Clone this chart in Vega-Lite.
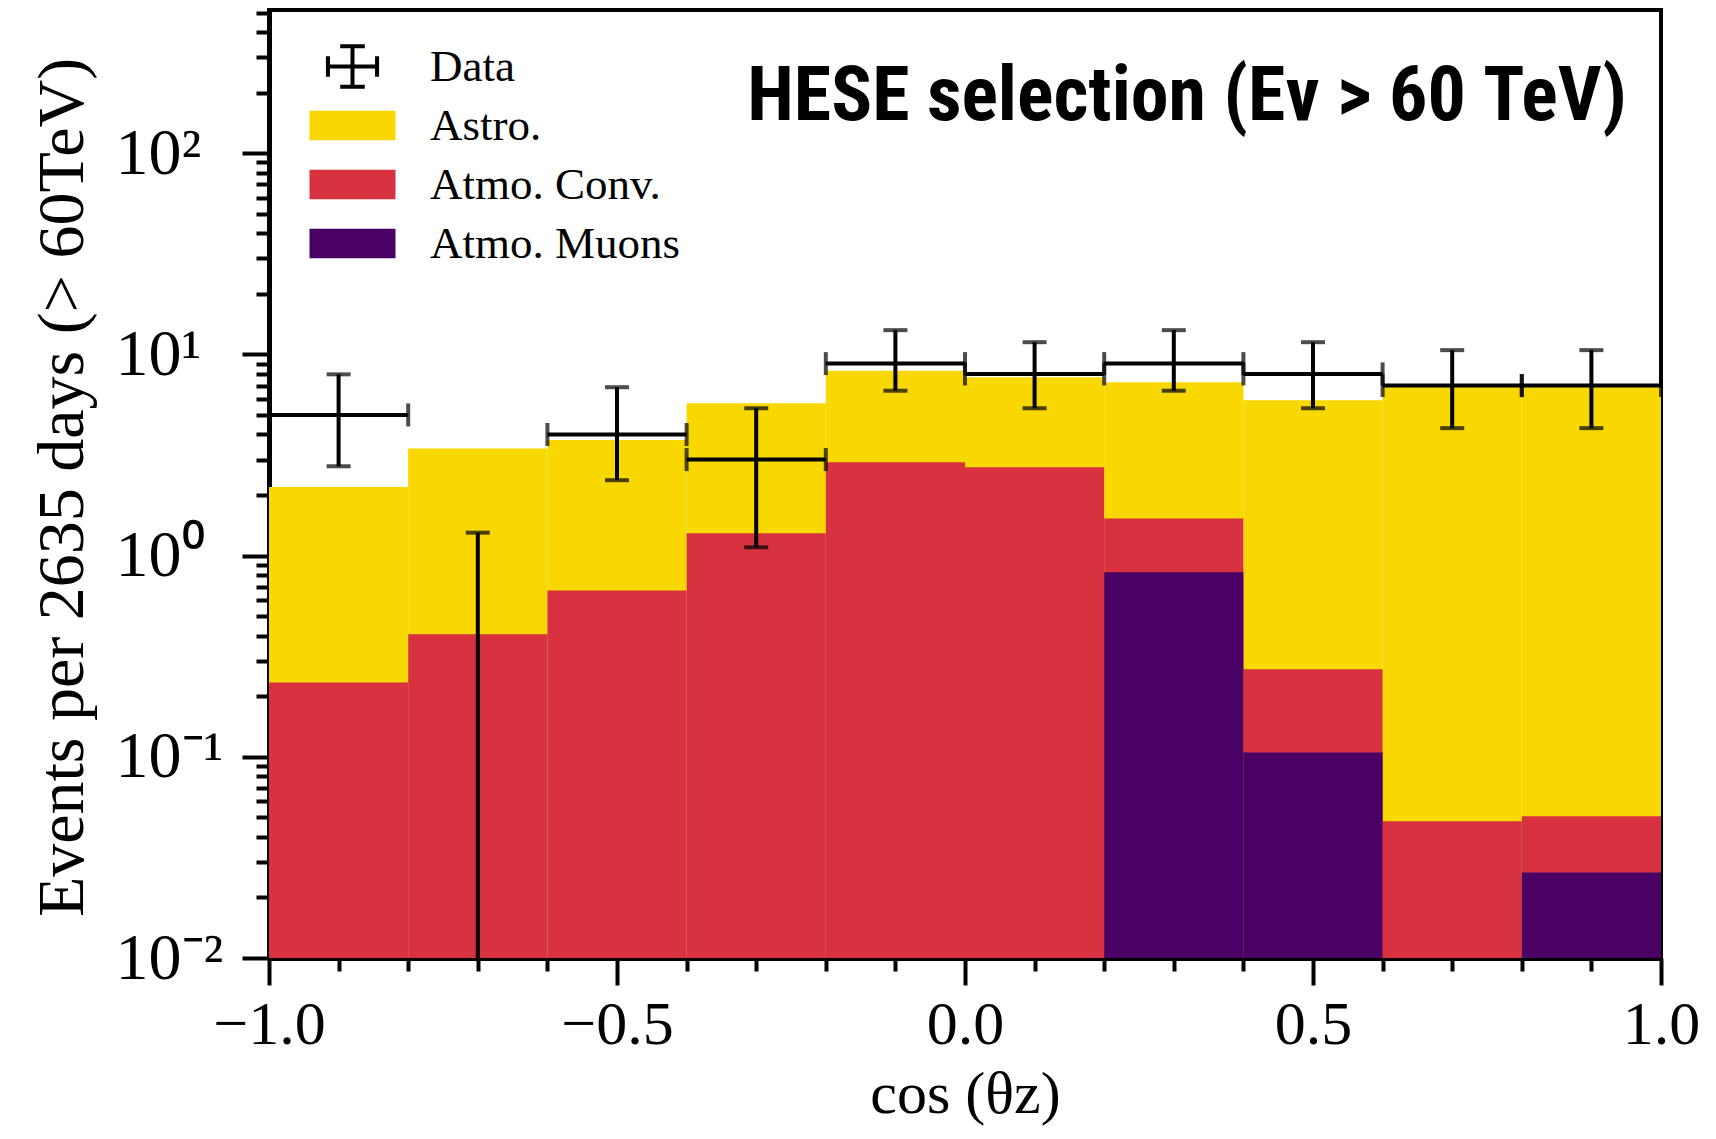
{
  "$schema": "https://vega.github.io/schema/vega-lite/v6.json",
  "width": 1392,
  "height": 948,
  "autosize": {"type": "none"},
  "padding": {"left": 269, "top": 10, "right": 55, "bottom": 181},
  "background": "white",
  "config": {
    "view": {"stroke": "black", "strokeWidth": 4},
    "axis": {
      "domainColor": "black", "domainWidth": 5, "tickColor": "black", "tickWidth": 4,
      "labelFont": "Liberation Serif", "labelFontSize": 62, "labelColor": "black",
      "titleFont": "Liberation Serif", "titleFontSize": 62, "titleFontWeight": "normal", "titleColor": "black",
      "grid": false
    }
  },
  "datasets": {
    "hist": [
      {"lo": -1.0, "hi": -0.8, "component": "Astro.", "top": 2.19},
      {"lo": -0.8, "hi": -0.6, "component": "Astro.", "top": 3.41},
      {"lo": -0.6, "hi": -0.4, "component": "Astro.", "top": 3.75},
      {"lo": -0.4, "hi": -0.2, "component": "Astro.", "top": 5.71},
      {"lo": -0.2, "hi": 0.0, "component": "Astro.", "top": 8.3},
      {"lo": 0.0, "hi": 0.2, "component": "Astro.", "top": 7.7},
      {"lo": 0.2, "hi": 0.4, "component": "Astro.", "top": 7.27},
      {"lo": 0.4, "hi": 0.6, "component": "Astro.", "top": 5.92},
      {"lo": 0.6, "hi": 0.8, "component": "Astro.", "top": 6.9},
      {"lo": 0.8, "hi": 1.0, "component": "Astro.", "top": 6.9},
      {"lo": -1.0, "hi": -0.8, "component": "Atmo. Conv.", "top": 0.234},
      {"lo": -0.8, "hi": -0.6, "component": "Atmo. Conv.", "top": 0.406},
      {"lo": -0.6, "hi": -0.4, "component": "Atmo. Conv.", "top": 0.671},
      {"lo": -0.4, "hi": -0.2, "component": "Atmo. Conv.", "top": 1.29},
      {"lo": -0.2, "hi": 0.0, "component": "Atmo. Conv.", "top": 2.91},
      {"lo": 0.0, "hi": 0.2, "component": "Atmo. Conv.", "top": 2.75},
      {"lo": 0.2, "hi": 0.4, "component": "Atmo. Conv.", "top": 1.53},
      {"lo": 0.4, "hi": 0.6, "component": "Atmo. Conv.", "top": 0.272},
      {"lo": 0.6, "hi": 0.8, "component": "Atmo. Conv.", "top": 0.0478},
      {"lo": 0.8, "hi": 1.0, "component": "Atmo. Conv.", "top": 0.0506},
      {"lo": 0.2, "hi": 0.4, "component": "Atmo. Muons", "top": 0.826},
      {"lo": 0.4, "hi": 0.6, "component": "Atmo. Muons", "top": 0.105},
      {"lo": 0.8, "hi": 1.0, "component": "Atmo. Muons", "top": 0.0266}
    ],
    "data": [
      {"center": -0.9, "lo": -1.0, "hi": -0.8, "count": 5, "lower": 2.78, "upper": 7.96},
      {"center": -0.7, "lo": -0.8, "hi": -0.6, "count": 0, "lower": 0.001, "upper": 1.30},
      {"center": -0.5, "lo": -0.6, "hi": -0.4, "count": 4, "lower": 2.37, "upper": 6.87},
      {"center": -0.3, "lo": -0.4, "hi": -0.2, "count": 3, "lower": 1.10, "upper": 5.4},
      {"center": -0.1, "lo": -0.2, "hi": 0.0, "count": 9, "lower": 6.6, "upper": 13.2},
      {"center": 0.1, "lo": 0.0, "hi": 0.2, "count": 8, "lower": 5.4, "upper": 11.5},
      {"center": 0.3, "lo": 0.2, "hi": 0.4, "count": 9, "lower": 6.6, "upper": 13.2},
      {"center": 0.5, "lo": 0.4, "hi": 0.6, "count": 8, "lower": 5.4, "upper": 11.5},
      {"center": 0.7, "lo": 0.6, "hi": 0.8, "count": 7, "lower": 4.3, "upper": 10.5},
      {"center": 0.9, "lo": 0.8, "hi": 1.0, "count": 7, "lower": 4.3, "upper": 10.5}
    ]
  },
  "layer": [
    {
      "data": {"name": "hist"},
      "mark": {"type": "bar", "strokeWidth": 0},
      "encoding": {
        "x": {
          "field": "lo", "type": "quantitative", "title": "cos (θz)",
          "scale": {"domain": [-1, 1], "nice": false, "zero": false},
          "axis": {
            "orient": "bottom",
            "values": [-1, -0.9, -0.8, -0.7, -0.6, -0.5, -0.4, -0.3, -0.2, -0.1, 0, 0.1, 0.2, 0.3, 0.4, 0.5, 0.6, 0.7, 0.8, 0.9, 1],
            "labelExpr": "indexof([-1, -0.5, 0, 0.5, 1], datum.value) >= 0 ? format(datum.value, '.1f') : ''",
            "tickSize": {"condition": {"test": "indexof([-1, -0.5, 0, 0.5, 1], datum.value) >= 0", "value": 27}, "value": 13},
            "labelPadding": 9,
            "labelFontSize": 62,
            "labelFlush": false,
            "labelOverlap": false,
            "titleFontSize": 60,
            "titleX": 696,
            "titleY": 136,
            "titleBaseline": "middle",
            "titleAlign": "center"
          }
        },
        "x2": {"field": "hi"},
        "y": {
          "field": "top", "type": "quantitative", "title": "Events per 2635 days (> 60TeV)",
          "scale": {"type": "log", "domain": [0.01, 515], "nice": false},
          "axis": {
            "orient": "left",
            "values": [0.01, 0.02, 0.03, 0.04, 0.05, 0.06, 0.07, 0.08, 0.09, 0.1, 0.2, 0.3, 0.4, 0.5, 0.6, 0.7, 0.8, 0.9, 1, 2, 3, 4, 5, 6, 7, 8, 9, 10, 20, 30, 40, 50, 60, 70, 80, 90, 100, 200, 300, 400, 500],
            "labelExpr": "datum.value == 100 ? '10²' : datum.value == 10 ? '10¹' : datum.value == 1 ? '10⁰' : datum.value == 0.1 ? '10⁻¹' : datum.value == 0.01 ? '10⁻²' : ''",
            "tickSize": {"condition": {"test": "indexof([0.01, 0.1, 1, 10, 100], datum.value) >= 0", "value": 27}, "value": 13},
            "labelAlign": "left",
            "labelPadding": 127,
            "labelFontSize": 66,
            "labelFlush": false,
            "labelOverlap": false,
            "labelBaseline": "middle",
            "titleFontSize": 66,
            "titleX": -207,
            "titleY": 477,
            "titleAngle": -90,
            "titleBaseline": "middle",
            "titleAlign": "center"
          }
        },
        "y2": {"datum": 0.01},
        "color": {
          "field": "component", "type": "nominal",
          "scale": {
            "domain": ["Data", "Astro.", "Atmo. Conv.", "Atmo. Muons"],
            "range": ["#000000", "#f8d800", "#d83240", "#4b0066"]
          },
          "legend": {
            "orient": "none", "legendX": 61, "legendY": 34, "title": null, "padding": 0,
            "labelFont": "Liberation Serif", "labelFontSize": 45, "labelColor": "black",
            "labelOffset": 55, "labelLimit": 600, "labelBaseline": "middle",
            "symbolSize": 2414, "symbolStrokeWidth": 0, "rowPadding": 8, "gridAlign": "all",
            "symbolType": "M-1.75,-0.6H1.75V0.6H-1.75Z",
            "encode": {
              "symbols": {
                "update": {
                  "shape": {"signal": "datum.value === 'Data' ? 'M-1,0H1M0,-0.82V0.82M-0.5,-0.82H0.5M-0.5,0.82H0.5M-1,-0.42V0.42M1,-0.42V0.42' : 'M-1.75,-0.6H1.75V0.6H-1.75Z'"},
                  "stroke": {"signal": "datum.value === 'Data' ? 'black' : 'transparent'"},
                  "strokeWidth": {"signal": "datum.value === 'Data' ? 4 : 0"}
                }
              }
            }
          }
        }
      }
    },
    {
      "data": {"name": "data"},
      "transform": [{"filter": "datum.count > 0"}],
      "mark": {"type": "errorbar", "ticks": true, "color": "black", "thickness": 4, "size": 23},
      "encoding": {
        "x": {"field": "lo", "type": "quantitative", "title": "cos (θz)"},
        "x2": {"field": "hi"},
        "y": {"field": "count", "type": "quantitative", "title": "Events per 2635 days (> 60TeV)"}
      }
    },
    {
      "data": {"name": "data"},
      "mark": {"type": "errorbar", "ticks": true, "color": "black", "thickness": 4, "size": 24, "clip": true},
      "encoding": {
        "x": {"field": "center", "type": "quantitative", "title": "cos (θz)"},
        "y": {"field": "lower", "type": "quantitative", "title": "Events per 2635 days (> 60TeV)"},
        "y2": {"field": "upper"}
      }
    },
    {
      "data": {"values": [{}]},
      "mark": {
        "type": "text",
        "text": "HESE selection (Eν > 60 TeV)",
        "font": "Roboto Condensed, Roboto",
        "fontWeight": "bold",
        "fontSize": 76,
        "align": "right",
        "baseline": "alphabetic",
        "color": "black"
      },
      "encoding": {
        "x": {"datum": 0.951},
        "y": {"datum": 146}
      }
    }
  ]
}
